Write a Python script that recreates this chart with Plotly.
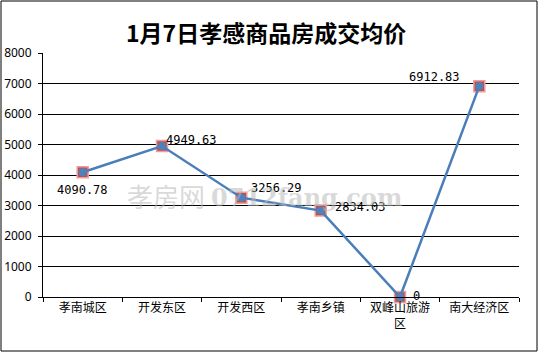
import plotly.graph_objects as go

categories = ["孝南城区", "开发东区", "开发西区", "孝南乡镇", "双峰山旅游<br>区", "南大经济区"]
values = [4090.78, 4949.63, 3256.29, 2834.03, 0, 6912.83]
labels = ["4090.78", "4949.63", "3256.29", "2834.03", "0", "6912.83"]
title = "1月7日孝感商品房成交均价"

fig = go.Figure()
fig.add_trace(go.Scatter(
    x=categories, y=values, mode="markers",
    marker=dict(symbol="square", size=11, color="#c0504d",
                line=dict(color="#e8a09e", width=1.5)),
    cliponaxis=False, hoverinfo="skip", showlegend=False))
fig.add_trace(go.Scatter(
    x=categories, y=values, mode="lines+markers",
    line=dict(color="#4a7ebb", width=2.5),
    marker=dict(symbol="circle", size=8, color="#4f81bd"),
    cliponaxis=False, showlegend=False))

# data label offsets (pixels): (xanchor, xshift, yshift)
label_pos = [("center", 0, -18), ("left", 2, 6), ("left", 8, 10),
             ("left", 12, 4), ("left", 11, 1), ("right", -17, 9)]
for c, v, t, (xa, xs, ys) in zip(categories, values, labels, label_pos):
    fig.add_annotation(x=c, y=v, text=t, showarrow=False, xanchor=xa, yanchor="middle",
                       xshift=xs, yshift=ys,
                       font=dict(family="DejaVu Sans Mono", size=12, color="black"))

# watermark
fig.add_annotation(x=(166 - 43) / 476, y=(297 - 195) / 244, xref="paper", yref="paper",
                   text="孝房网", showarrow=False, xanchor="center", yanchor="middle",
                   font=dict(family="Noto Sans CJK SC", size=26,
                             color="rgba(185,185,185,0.55)"))
fig.add_annotation(x=(306 - 43) / 476, y=(297 - 198) / 244, xref="paper", yref="paper",
                   text="<b>0712fang.com</b>", showarrow=False, xanchor="center", yanchor="middle",
                   font=dict(family="DejaVu Serif", size=24,
                             color="rgba(185,185,185,0.55)"))

fig.add_annotation(x=(266 - 43) / 476, y=(297 - 32) / 244, xref="paper", yref="paper",
                   text="<b>" + title + "</b>", showarrow=False,
                   xanchor="center", yanchor="middle",
                   font=dict(family="Noto Sans CJK SC", size=23, color="black"))

fig.add_shape(type="rect", xref="paper", yref="paper",
              x0=(1 - 43) / 476, x1=(537 - 43) / 476,
              y0=(297 - 351) / 244, y1=(297 - 1) / 244,
              line=dict(color="black", width=1))

fig.update_layout(
    width=539, height=354,
    margin=dict(l=43, r=20, t=53, b=57),
    paper_bgcolor="white", plot_bgcolor="white",
    xaxis=dict(type="category", range=[-0.5, 5.5], tickson="boundaries",
               ticks="outside", ticklen=4, tickcolor="black", automargin=False,
               showline=True, linecolor="black", linewidth=1, showgrid=False,
               tickfont=dict(family="Noto Sans CJK SC", size=12, color="black")),
    yaxis=dict(range=[0, 8000], dtick=1000, ticks="outside", ticklen=4,
               tickcolor="black", showline=True, linecolor="black", linewidth=1,
               gridcolor="black", gridwidth=1, zeroline=False, ticklabelstandoff=4,
               automargin=False,
               tickfont=dict(family="Noto Sans", size=12, color="black")),
)

fig.write_html("out.html")
